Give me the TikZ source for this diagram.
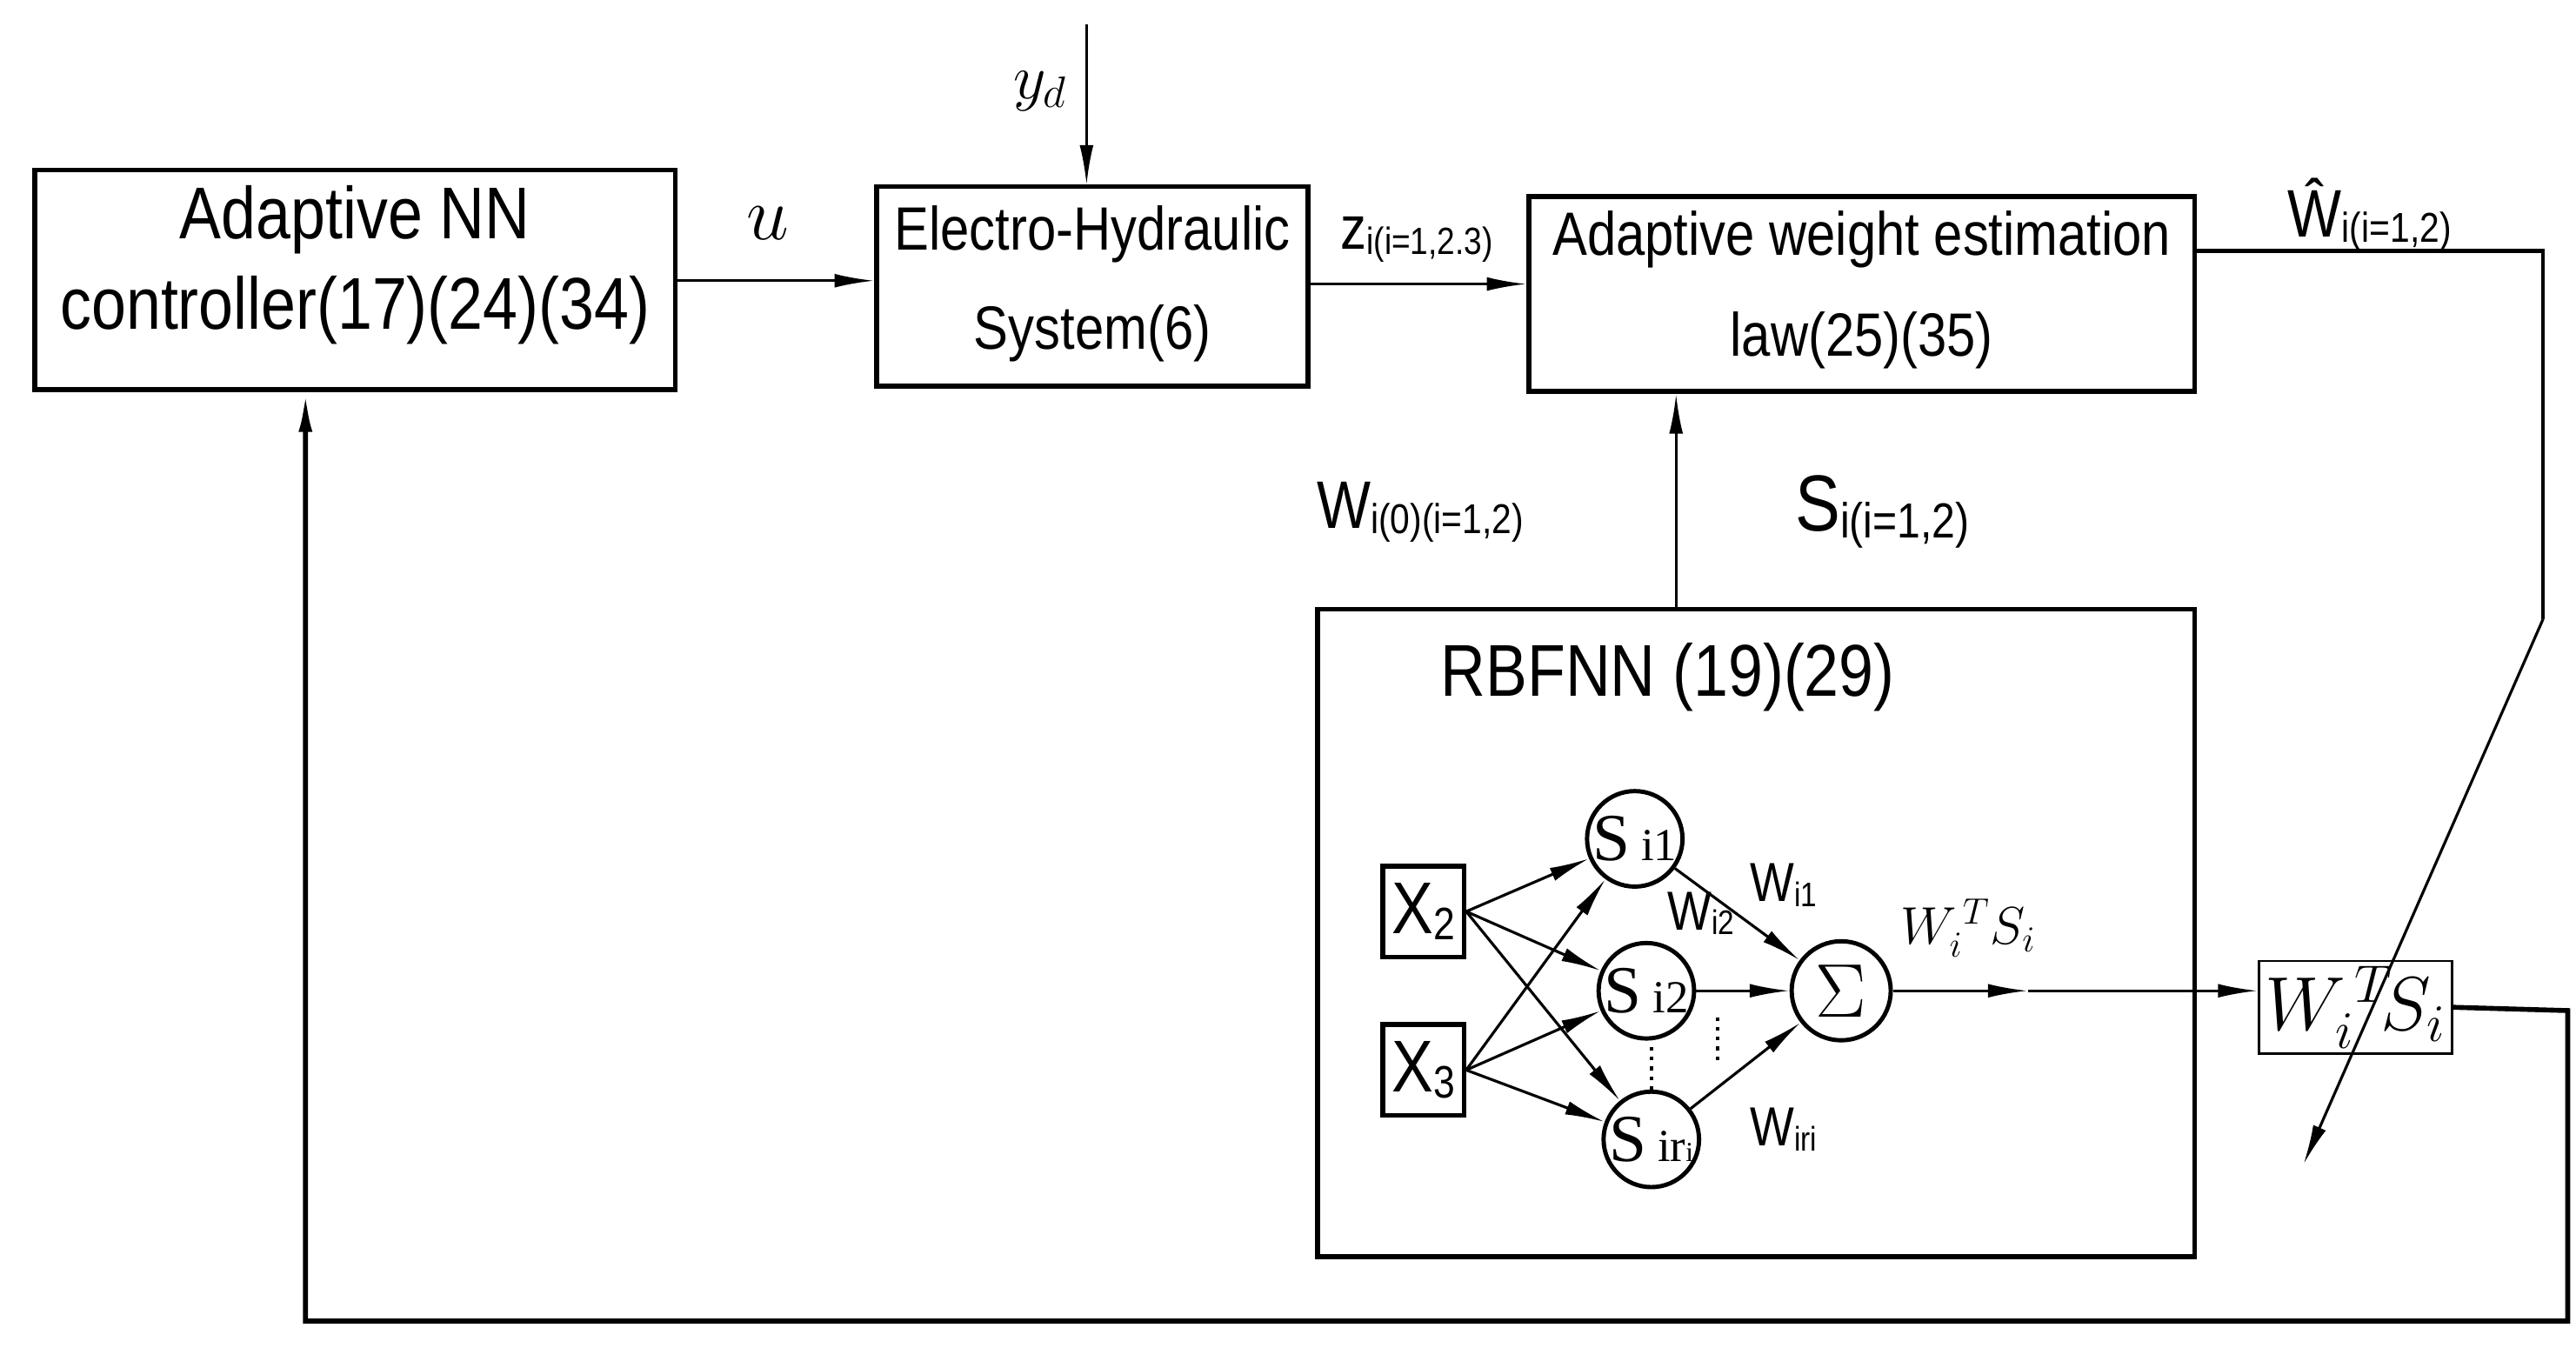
\documentclass[tikz,border=0pt]{standalone}
\usepackage{fontspec}
\setmainfont{Liberation Sans}
\newfontfamily\serf{Liberation Serif}
\usetikzlibrary{arrows.meta}
\newcommand{\lowsub}[1]{{\fontsize{0.62em}{1em}\selectfont\raisebox{-0.25ex}{#1}}}
\begin{document}
\begin{tikzpicture}[x=0.018987cm,y=-0.018987cm,
  >={Latex[length=13pt,width=4.5pt]},
  blk/.style={draw,line width=1.6pt,inner sep=0},
  big/.style={font=\fontsize{24}{28}\selectfont,xscale=0.85},
  mid/.style={font=\fontsize{20}{24}\selectfont,xscale=0.85},
  lab/.style={font=\fontsize{22}{26}\selectfont,xscale=0.85},
  neu/.style={draw,circle,line width=1.4pt,minimum size=56*0.018987cm,inner sep=0,font=\fontsize{22}{24}\selectfont\serf},
  ln/.style={line width=0.9pt}]
\useasboundingbox (0,0) rectangle (1560,816);
% blocks
\node[blk,minimum width=388*0.018987cm,minimum height=133*0.018987cm] (ctl) at (215,169.5) {};
\node[big] at (215,133) {Adaptive NN};
\node[big] at (215,188) {controller(17)(24)(34)};
\node[blk,minimum width=261*0.018987cm,minimum height=121*0.018987cm] (eh) at (661.5,173.5) {};
\node[mid] at (661.5,142) {Electro-Hydraulic};
\node[mid] at (661.5,202) {System(6)};
\node[blk,minimum width=403*0.018987cm,minimum height=118*0.018987cm] (awe) at (1127.5,178) {};
\node[mid] at (1127.5,145) {Adaptive weight estimation};
\node[mid] at (1127.5,206) {law(25)(35)};
\node[blk,minimum width=531*0.018987cm,minimum height=392*0.018987cm] (rbf) at (1063.5,565) {};
\node[big] at (1010,410) {RBFNN (19)(29)};
\node[blk,minimum width=117*0.018987cm,minimum height=56*0.018987cm,line width=0.8pt] (wts) at (1426.5,610) {};
\node[font=\fontsize{24}{28}\selectfont] at (1426.5,610) {$W_i^{\,T}\!S_i$};
% labels
\node[font=\fontsize{28}{32}\selectfont] at (465,135) {$u$};
\node[font=\fontsize{22}{26}\selectfont] at (630,55) {$y_d$};
\node[mid] at (858,145) {z\lowsub{i(i=1,2.3)}};
\node[lab] at (1435,130) {\^{W}\lowsub{i(i=1,2)}};
\node[lab] at (860,310) {W\lowsub{i(0)(i=1,2)}};
\node[font=\fontsize{26}{30}\selectfont,xscale=0.85] at (1140,310) {S\lowsub{i(i=1,2)}};
% top connectors
\coordinate (yd) at (658,15);
\draw[ln,->] (yd) -- (658,112);
\draw[ln,->] (ctl.east|-0,170) -- (eh.west|-0,170);
\draw[ln,->] (eh.east|-0,172) -- (awe.west|-0,172);
\draw[ln,->] (rbf.north-|1015,0) -- (awe.south-|1015,0);
\coordinate (dend) at (1395,705);
\draw[line width=1.2pt] (awe.east|-0,152) -- (1540,152) -- (1540,375);
\draw[ln,->] (1540,375) -- (dend);
\draw[line width=1.6pt,->] (wts.east) -- (1555,612) -- (1555,800) -- (185,800) -- (ctl.south-|185,0);
% network
\node[blk,minimum width=58*0.018987cm,minimum height=55*0.018987cm,font=\fontsize{24}{26}\selectfont,xscale=0.85] (x2) at (862,552) {X\lowsub{2}};
\node[blk,minimum width=58*0.018987cm,minimum height=55*0.018987cm,font=\fontsize{24}{26}\selectfont,xscale=0.85] (x3) at (862,648) {X\lowsub{3}};
\node[neu] (s1) at (990,508) {S\,{\fontsize{15}{16}\selectfont i1}};
\node[neu] (s2) at (997,600) {S\,{\fontsize{15}{16}\selectfont i2}};
\node[neu] (s3) at (1000,690) {S\,{\fontsize{15}{16}\selectfont ir{\fontsize{9}{10}\selectfont i}}};
\node[neu,minimum size=60*0.018987cm,font=\fontsize{28}{32}\selectfont] (sg) at (1115,600) {$\Sigma$};
\foreach \a in {x2,x3}{\foreach \b in {s1,s2,s3}{\draw[ln,->] (\a.east) -- (\b);}}
\draw[ln,->] (s1) -- (sg);
\draw[ln,->] (s2) -- (sg);
\draw[ln,->] (s3) -- (sg);
\draw[line width=1.2pt,dotted] (1000,634) -- (1000,660);
\draw[line width=1.2pt,dotted] (1040,616) -- (1040,642);
\node[font=\fontsize{18}{22}\selectfont,xscale=0.85] at (1080,536) {W\lowsub{i1}};
\node[font=\fontsize{18}{22}\selectfont,xscale=0.85] at (1030,553) {W\lowsub{i2}};
\node[font=\fontsize{18}{22}\selectfont,xscale=0.85] at (1080,684) {W\lowsub{iri}};
\node[font=\fontsize{18}{22}\selectfont] at (1192,562) {$W_i^{\,T}S_i$};
\coordinate (mid) at (1228,600);
\draw[ln,->] (sg.east) -- (mid);
\draw[ln,->] (mid) -- (wts.west|-0,600);
\end{tikzpicture}
\end{document}
